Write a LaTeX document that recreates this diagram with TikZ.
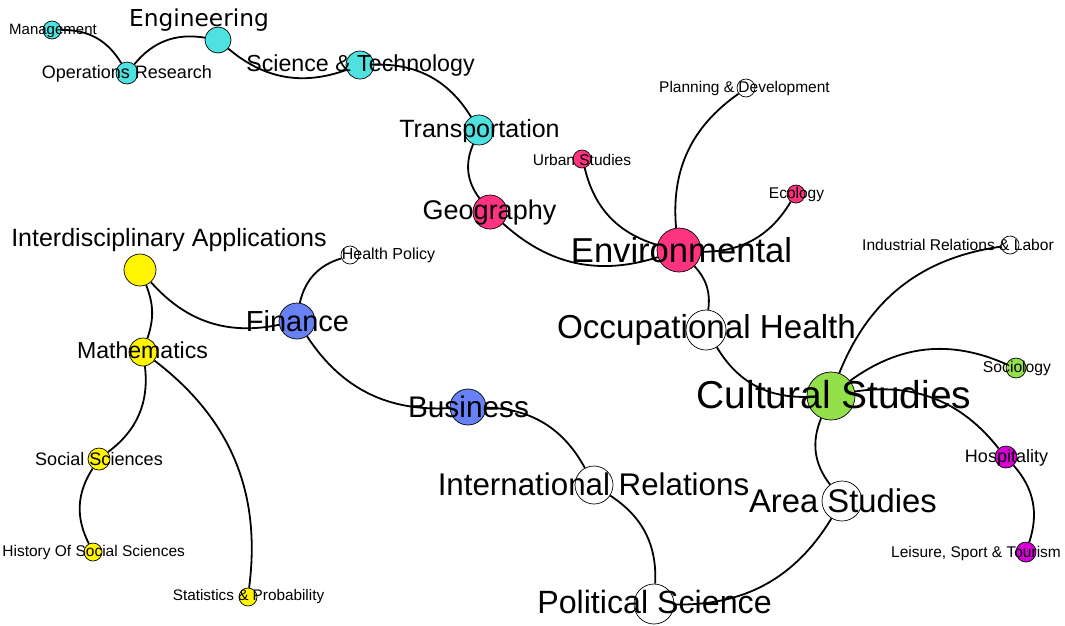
\documentclass[tikz,border=0pt]{standalone}
\usepackage{fontspec}
\setmainfont{Liberation Sans}
\newfontfamily\djv{DejaVu Sans}
\usetikzlibrary{backgrounds}
\definecolor{ncyan}{RGB}{77,226,224}
\definecolor{npink}{RGB}{255,51,128}
\definecolor{nblue}{RGB}{104,130,245}
\definecolor{ngreen}{RGB}{148,224,74}
\definecolor{nmag}{RGB}{214,0,214}
\definecolor{nyel}{RGB}{255,245,0}
\tikzset{
  vtx/.style 2 args={circle,draw=black,line width=0.7pt,inner sep=0pt,fill=#1,minimum size=#2},
  lbl/.style={font=\fontsize{#1pt}{#1pt}\selectfont,inner sep=0pt,anchor=base,text=black},
  link/.style={draw=black,line width=1.8pt},
}
\begin{document}
\begin{tikzpicture}[x=1pt,y=-1pt]
\useasboundingbox (0,0) rectangle (1065,625);
\clip (0,0) rectangle (1065,625);
% vertices
\node[vtx={ncyan}{18pt}] (man) at (52,30) {};
\node[vtx={ncyan}{22pt}] (ops) at (127,73) {};
\node[vtx={ncyan}{26pt}] (eng) at (218,40) {};
\node[vtx={ncyan}{28pt}] (sci) at (360,65) {};
\node[vtx={ncyan}{30pt}] (tra) at (479,130) {};
\node[vtx={npink}{34pt}] (geo) at (490,212) {};
\node[vtx={npink}{18pt}] (urb) at (582,159) {};
\node[vtx={white}{18pt}] (pla) at (746,88) {};
\node[vtx={npink}{18pt}] (eco) at (796,194) {};
\node[vtx={npink}{44pt}] (env) at (679,250) {};
\node[vtx={white}{18pt}] (ind) at (1010,245) {};
\node[vtx={white}{40pt}] (occ) at (706,330) {};
\node[vtx={ngreen}{48pt}] (cul) at (831,396) {};
\node[vtx={ngreen}{20pt}] (soc) at (1016,368) {};
\node[vtx={nmag}{22pt}] (hos) at (1006,457) {};
\node[vtx={nmag}{20pt}] (lei) at (1026,552) {};
\node[vtx={white}{40pt}] (are) at (842,501) {};
\node[vtx={white}{38pt}] (int) at (594,485) {};
\node[vtx={white}{40pt}] (pol) at (654,604) {};
\node[vtx={nblue}{36pt}] (bus) at (468,407) {};
\node[vtx={nblue}{36pt}] (fin) at (297,321) {};
\node[vtx={white}{18pt}] (hea) at (350,255) {};
\node[vtx={nyel}{32pt}] (ida) at (140,270) {};
\node[vtx={nyel}{28pt}] (mat) at (143,352) {};
\node[vtx={nyel}{22pt}] (ssc) at (99,459) {};
\node[vtx={nyel}{18pt}] (his) at (93,552) {};
\node[vtx={nyel}{18pt}] (sta) at (248,597) {};
% edges
\begin{scope}[on background layer]
\draw[link] (man) to[bend left=30] (ops);
\draw[link] (ops) to[bend left=30] (eng);
\draw[link] (eng) to[bend right=30] (sci);
\draw[link] (sci) to[bend left=30] (tra);
\draw[link] (tra) to[bend right=30] (geo);
\draw[link] (geo) to[bend right=30] (env);
\draw[link] (urb) to[bend right=30] (env);
\draw[link] (pla) to[bend right=30] (env);
\draw[link] (eco) to[bend left=30] (env);
\draw[link] (env) to[bend left=25] (occ);
\draw[link] (occ) to[bend right=30] (cul);
\draw[link] (ind) to[bend right=30] (cul);
\draw[link] (soc) to[bend right=30] (cul);
\draw[link] (cul) to[bend left=30] (hos);
\draw[link] (hos) to[bend left=30] (lei);
\draw[link] (cul) to[bend right=30] (are);
\draw[link] (are) to[bend left=30] (pol);
\draw[link] (int) to[bend left=30] (pol);
\draw[link] (bus) to[bend left=30] (int);
\draw[link] (fin) to[bend right=30] (bus);
\draw[link] (fin) to[bend left=30] (hea);
\draw[link] (ida) to[bend right=30] (fin);
\draw[link] (ida) to[bend left=20] (mat);
\draw[link] (mat) to[bend left=30] (ssc);
\draw[link] (ssc) to[bend right=30] (his);
\draw[link] (mat) to[bend left=30] (sta);
\end{scope}
% labels
\node[lbl=15] (l-man) at (53,34) {Management};
\node[lbl=18] (l-ops) at (127,78) {Operations Research};
\node[lbl=23,font=\djv\fontsize{23.3pt}{23pt}\selectfont] (l-eng) at (199,26) {Engineering};
\node[lbl=23.2] (l-sci) at (360.5,71) {Science \& Technology};
\node[lbl=25] (l-tra) at (479.5,137) {Transportation};
\node[lbl=27] (l-geo) at (489.5,219) {Geography};
\node[lbl=15.5] (l-urb) at (582,165) {Urban Studies};
\node[lbl=15.5] (l-pla) at (744.5,92) {Planning \& Development};
\node[lbl=15.5] (l-eco) at (796.5,198) {Ecology};
\node[lbl=34.6] (l-env) at (681.5,262) {Environmental};
\node[lbl=15.6] (l-ind) at (958,250) {Industrial Relations \& Labor};
\node[lbl=33.2] (l-occ) at (706.5,338) {Occupational Health};
\node[lbl=38.9] (l-cul) at (834,408) {Cultural Studies};
\node[lbl=15.7] (l-soc) at (1017,372) {Sociology};
\node[lbl=18] (l-hos) at (1006.5,462) {Hospitality};
\node[lbl=15.5] (l-lei) at (976,557) {Leisure, Sport \& Tourism};
\node[lbl=32.8] (l-are) at (843,512) {Area Studies};
\node[lbl=31.3] (l-int) at (593.5,495) {International Relations};
\node[lbl=32.2] (l-pol) at (654.5,613) {Political Science};
\node[lbl=29.8] (l-bus) at (468.5,417) {Business};
\node[lbl=29] (l-fin) at (297.5,331) {Finance};
\node[lbl=16] (l-hea) at (388.5,259) {Health Policy};
\node[lbl=25] (l-ida) at (169,246) {Interdisciplinary Applications};
\node[lbl=23.1] (l-mat) at (142.5,358) {Mathematics};
\node[lbl=18.1] (l-ssc) at (99,465) {Social Sciences};
\node[lbl=15.5] (l-his) at (93.7,556) {History Of Social Sciences};
\node[lbl=15.3] (l-sta) at (248.5,600) {Statistics \& Probability};
\end{tikzpicture}
\end{document}
